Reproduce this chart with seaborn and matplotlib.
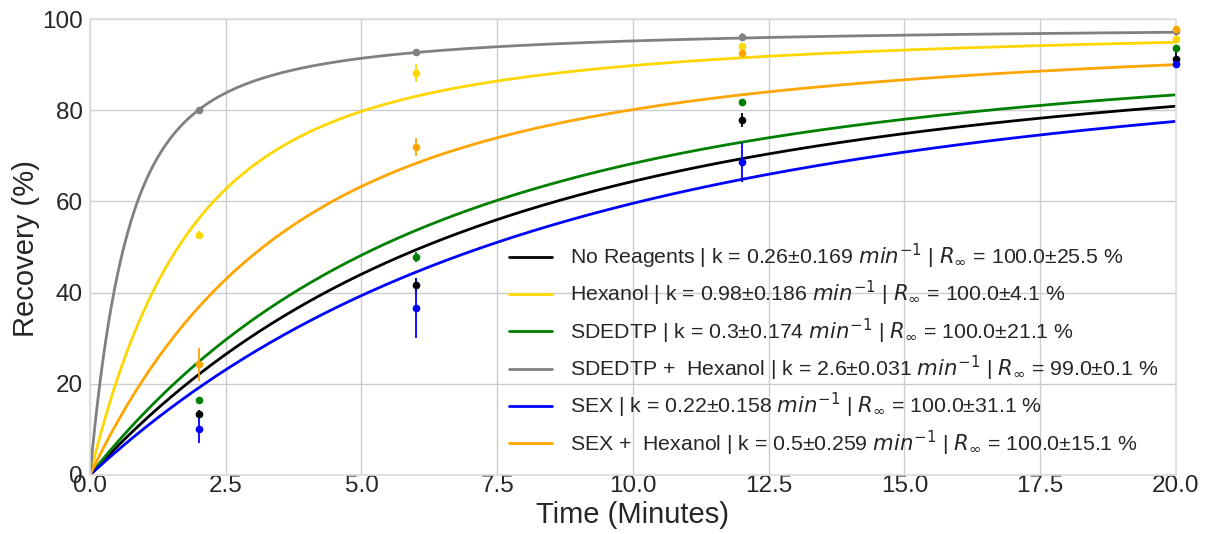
import numpy as np
import pandas as pd
import matplotlib
matplotlib.use("Agg")
import matplotlib.pyplot as plt
import seaborn as sns

sns.set_theme(style="whitegrid")
plt.rcParams['font.family'] = ['Liberation Sans', 'DejaVu Sans']

# Sampling times (minutes)
times = [2, 6, 12, 20]

series_names = ["No Reagents", "Hexanol", "SDEDTP", "SDEDTP +  Hexanol", "SEX", "SEX +  Hexanol"]
series_colors = ["black", "gold", "green", "grey", "blue", "orange"]

# Klimpel fit parameters
k_vals = [0.26, 0.98, 0.3, 2.6, 0.22, 0.5]
k_errs = [0.169, 0.186, 0.174, 0.031, 0.158, 0.259]
rinf_vals = [100.0, 100.0, 100.0, 99.0, 100.0, 100.0]
rinf_errs = [25.5, 4.1, 21.1, 0.1, 31.1, 15.1]

# Measured recovery (%) and standard deviations
rec_no_reagents = [13.4, 41.6, 77.8, 91.2]
sd_no_reagents = [0.8, 1.5, 1.5, 1.5]
rec_hexanol = [52.6, 88.1, 94.0, 95.6]
sd_hexanol = [0.8, 2.0, 0.8, 0.8]
rec_sdedtp = [16.4, 47.8, 81.8, 93.6]
sd_sdedtp = [0.6, 1.0, 0.6, 0.6]
rec_sdedtp_hex = [80.0, 92.8, 96.1, 97.4]
sd_sdedtp_hex = [0.5, 0.6, 0.8, 0.5]
rec_sex = [10.1, 36.6, 68.6, 90.1]
sd_sex = [3.0, 6.5, 4.3, 0.8]
rec_sex_hex = [24.3, 71.9, 92.5, 97.8]
sd_sex_hex = [3.6, 1.9, 0.8, 0.6]

recoveries = [rec_no_reagents, rec_hexanol, rec_sdedtp, rec_sdedtp_hex, rec_sex, rec_sex_hex]
stdevs = [sd_no_reagents, sd_hexanol, sd_sdedtp, sd_sdedtp_hex, sd_sex, sd_sex_hex]


def klimpel(t, k, rinf):
    t = np.asarray(t, dtype=float)
    kt = k * t
    out = np.zeros_like(t)
    nz = kt > 0
    out[nz] = rinf * (1 - (1 - np.exp(-kt[nz])) / kt[nz])
    return out


t_fit = np.linspace(0, 20, 800)
rows = []
labels = []
for name, k, ke, r, re in zip(series_names, k_vals, k_errs, rinf_vals, rinf_errs):
    label = (f"{name} | k = {k}\u00b1{ke} $min^{{-1}}$ | "
             f"$R_{{\\infty}}$ = {r}\u00b1{re} %")
    labels.append(label)
    for t, y in zip(t_fit, klimpel(t_fit, k, r)):
        rows.append({"Time": t, "Recovery": y, "Series": label})
curves = pd.DataFrame(rows)

fig, ax = plt.subplots(figsize=(12.08, 5.34), dpi=100)
fig.subplots_adjust(left=0.0745, right=0.9735, top=0.9644, bottom=0.1105)

for rec, sd, col in zip(recoveries, stdevs, series_colors):
    ax.errorbar(times, rec, yerr=sd, fmt="o", color=col, markersize=4.5,
                elinewidth=1.3, capsize=0, zorder=3, clip_on=False)

sns.lineplot(data=curves, x="Time", y="Recovery", hue="Series", hue_order=labels,
             palette=dict(zip(labels, series_colors)), linewidth=2, ax=ax)

ax.set_xlim(0, 20)
ax.set_ylim(0, 100)
ax.set_xlabel("Time (Minutes)", fontsize=21, va="top")
ax.set_ylabel("Recovery (%)", fontsize=21)
ax.xaxis.set_label_coords(0.5, -0.058)
ax.yaxis.set_label_coords(-0.046, 0.497)
ax.tick_params(axis="x", labelsize=17.5, length=0, pad=0)
ax.tick_params(axis="y", labelsize=17.5, length=0, pad=5)
for s in ax.spines.values():
    s.set_color("#dddddd")

leg = ax.legend(loc="lower right", frameon=False, fontsize=15.3,
                handlelength=2.0, handletextpad=0.85, labelspacing=0.385,
                bbox_to_anchor=(1.001, -0.004))

fig.savefig("out.png", dpi=100)
